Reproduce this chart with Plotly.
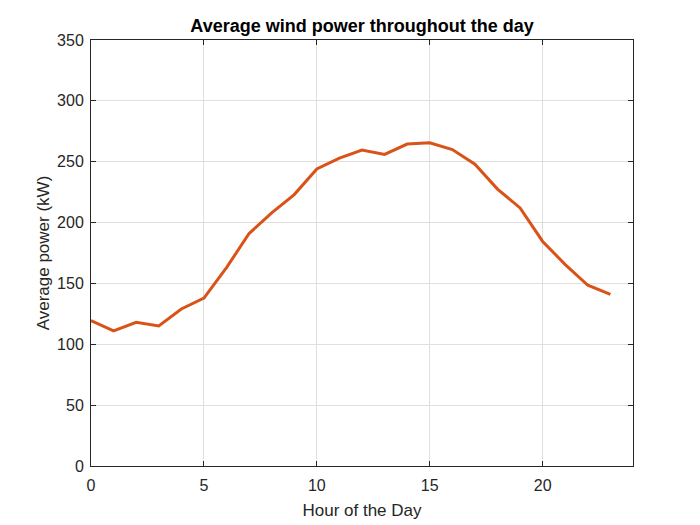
import plotly.graph_objects as go

hours = list(range(24))
avg_power = [119.5, 111, 118, 115, 129, 138, 163, 191, 208, 223, 244, 253, 259.5, 256,
             264.5, 265.5, 260, 248, 227.5, 212, 184.5, 165.5, 148.5, 141]

fig = go.Figure()
fig.add_trace(go.Scatter(x=hours, y=avg_power, mode="lines",
                         line=dict(color="#D95319", width=3)))

axis_style = dict(showline=True, linecolor="#262626", linewidth=1, mirror="ticks",
                  ticks="inside", ticklen=5, tickcolor="#262626",
                  showgrid=True, gridcolor="#DFDFDF", gridwidth=1,
                  zeroline=False, automargin=False,
                  tickfont=dict(size=16, color="#262626"))

fig.update_xaxes(range=[0, 24], tickvals=[0, 5, 10, 15, 20], ticklabelstandoff=5,
                 title=dict(text="Hour of the Day", font=dict(size=17, color="#262626"), standoff=10),
                 **axis_style)
fig.update_yaxes(range=[0, 350], dtick=50, ticklabelstandoff=3,
                 title=dict(text="Average power (kW)", font=dict(size=17, color="#262626"), standoff=3),
                 **axis_style)

# page body adds ~8px offset, so margins are shifted to keep the axes box in place
fig.update_layout(
    width=700, height=525,
    margin=dict(l=83, r=75, t=32, b=67),
    paper_bgcolor="white", plot_bgcolor="white",
    font=dict(family="Liberation Sans, Arial, sans-serif", color="#262626"),
    title=dict(text="<b>Average wind power throughout the day</b>", x=0.5, xref="paper",
               xanchor="center", y=1, yref="paper", yanchor="bottom", pad=dict(b=8),
               font=dict(size=18, color="black")),
    showlegend=False,
)

fig.write_html("out.html")
